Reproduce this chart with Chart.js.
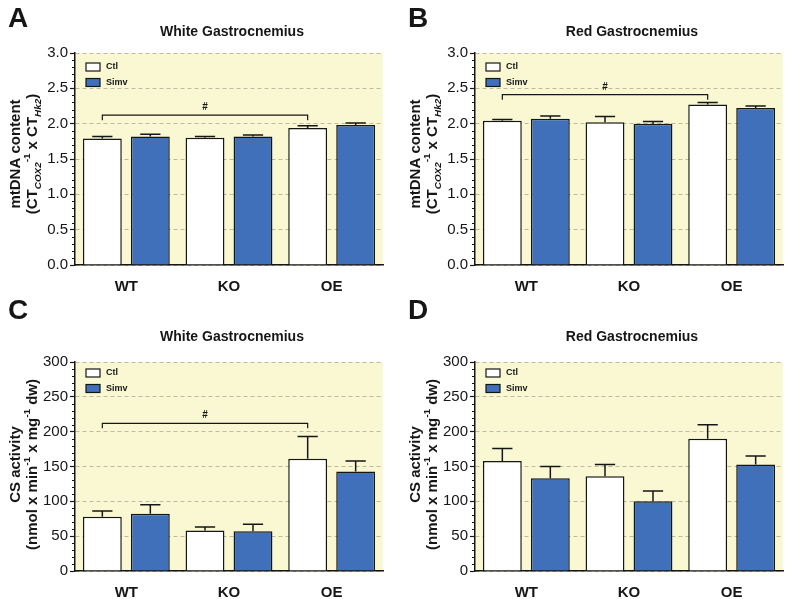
<!DOCTYPE html>
<html>
<head>
<meta charset="utf-8">
<script src="https://cdn.jsdelivr.net/npm/chart.js@4.4.1/dist/chart.umd.min.js"></script>
<style>
  html, body { margin: 0; padding: 0; background: #ffffff; }
  body { width: 800px; height: 599px; position: relative; overflow: hidden; }
  .panel { position: absolute; width: 400px; }
  canvas { display: block; }
</style>
</head>
<body>
<div class="panel" style="left:0;top:0;height:300px"><canvas id="cA" width="400" height="300"></canvas></div>
<div class="panel" style="left:400px;top:0;height:300px"><canvas id="cB" width="400" height="300"></canvas></div>
<div class="panel" style="left:0;top:300px;height:299px"><canvas id="cC" width="400" height="299"></canvas></div>
<div class="panel" style="left:400px;top:300px;height:299px"><canvas id="cD" width="400" height="299"></canvas></div>
<script>
// ---------- data ----------
const categories = ['WT', 'KO', 'OE'];
const seriesNames = ['Ctl', 'Simv'];

// A: mtDNA content, white gastrocnemius
const mtWhiteCtl = [1.79, 1.80, 1.94];
const mtWhiteCtlErr = [0.03, 0.02, 0.03];
const mtWhiteSimv = [1.82, 1.82, 1.98];
const mtWhiteSimvErr = [0.03, 0.02, 0.03];

// B: mtDNA content, red gastrocnemius
const mtRedCtl = [2.04, 2.02, 2.27];
const mtRedCtlErr = [0.02, 0.08, 0.03];
const mtRedSimv = [2.07, 2.00, 2.22];
const mtRedSimvErr = [0.04, 0.03, 0.03];

// C: CS activity, white gastrocnemius
const csWhiteCtl = [78, 58, 161];
const csWhiteCtlErr = [8, 5, 32];
const csWhiteSimv = [82, 57, 143];
const csWhiteSimvErr = [13, 10, 15];

// D: CS activity, red gastrocnemius
const csRedCtl = [158, 136, 190];
const csRedCtlErr = [18, 17, 20];
const csRedSimv = [133, 100, 153];
const csRedSimvErr = [17, 15, 12];

// significance brackets: [fromCategory, toCategory, value, label]
const bracketA = [0, 2, 2.12, '#'];
const bracketB = [0, 2, 2.41, '#'];
const bracketC = [0, 2, 212, '#'];

const mtTicks = { max: 3.0, step: 0.5, minor: 0.1, decimals: 1 };
const csTicks = { max: 300, step: 50, minor: 10, decimals: 0 };

const mtLabel = [
  [{ t: 'mtDNA content' }],
  [{ t: '(CT' }, { t: 'COX2', sub: true, it: true }, { t: '-1', sup: true }, { t: ' x CT' }, { t: 'Hk2', sub: true, it: true }, { t: ')' }]
];
const csLabel = [
  [{ t: 'CS activity' }],
  [{ t: '(nmol x min' }, { t: '-1', sup: true }, { t: ' x mg' }, { t: '-1', sup: true }, { t: ' dw)' }]
];

// ---------- styling ----------
const FONT = "'Liberation Sans', Arial, Helvetica, sans-serif";
const INK = '#161616';
const CTL_FILL = '#ffffff';
const SIMV_FILL = '#3f70b9';
const PLOT_BG = '#f9f8d3';
const GRID = '#bdbb9c';

Chart.defaults.font.family = FONT;
Chart.defaults.color = INK;

function richWidth(ctx, segs, size) {
  let w = 0;
  for (const s of segs) {
    const fs = (s.sub || s.sup) ? size * 0.66 : size;
    ctx.font = (s.it ? 'italic ' : '') + 'bold ' + fs + 'px ' + FONT;
    w += ctx.measureText(s.t).width;
  }
  return w;
}
function drawRichRotated(ctx, segs, bx, cy, size) {
  ctx.save();
  ctx.translate(bx, cy);
  ctx.rotate(-Math.PI / 2);
  ctx.fillStyle = INK;
  ctx.textBaseline = 'alphabetic';
  ctx.textAlign = 'left';
  const w = richWidth(ctx, segs, size);
  let x = -w / 2;
  for (const s of segs) {
    const fs = (s.sub || s.sup) ? size * 0.66 : size;
    ctx.font = (s.it ? 'italic ' : '') + 'bold ' + fs + 'px ' + FONT;
    const dy = s.sub ? size * 0.28 : (s.sup ? -size * 0.45 : 0);
    ctx.fillText(s.t, x, dy);
    x += ctx.measureText(s.t).width;
  }
  ctx.restore();
}

const decor = {
  id: 'decor',
  beforeDraw(chart, args, o) {
    const { ctx, chartArea: a } = chart;
    ctx.save();
    ctx.fillStyle = PLOT_BG;
    ctx.fillRect(a.left, a.top, a.right - a.left, a.bottom - a.top);
    ctx.restore();
  },
  afterDatasetsDraw(chart, args, o) {
    const { ctx, chartArea: a } = chart;
    const ys = chart.scales.y;
    ctx.save();
    ctx.strokeStyle = INK;
    ctx.lineWidth = 1.5;
    // error bars (upper half)
    chart.data.datasets.forEach((ds, di) => {
      const meta = chart.getDatasetMeta(di);
      meta.data.forEach((el, i) => {
        const top = ys.getPixelForValue(ds.data[i] + ds.errors[i]);
        const cap = el.width * 0.26;
        ctx.beginPath();
        ctx.moveTo(el.x, el.y);
        ctx.lineTo(el.x, top);
        ctx.moveTo(el.x - cap, top);
        ctx.lineTo(el.x + cap, top);
        ctx.stroke();
      });
    });
    // bracket
    if (o.bracket) {
      const [f, t, v, lab] = o.bracket;
      const m = chart.getDatasetMeta(0);
      const x1 = m.data[f].x, x2 = m.data[t].x;
      const y = ys.getPixelForValue(v);
      ctx.lineWidth = 1.2;
      ctx.beginPath();
      ctx.moveTo(x1, y + 5);
      ctx.lineTo(x1, y);
      ctx.lineTo(x2, y);
      ctx.lineTo(x2, y + 5);
      ctx.stroke();
      ctx.fillStyle = INK;
      ctx.font = 'bold 10px ' + FONT;
      ctx.textAlign = 'center';
      ctx.textBaseline = 'alphabetic';
      ctx.fillText(lab, (x1 + x2) / 2, y - 5);
    }
    // legend
    chart.data.datasets.forEach((ds, di) => {
      const bx = a.left + 11;
      const by = a.top + o.legendTop + di * 15.5;
      ctx.fillStyle = ds.backgroundColor;
      ctx.fillRect(bx, by - 4, 14, 8);
      ctx.lineWidth = 1.2;
      ctx.strokeStyle = INK;
      ctx.strokeRect(bx, by - 4, 14, 8);
      ctx.fillStyle = INK;
      ctx.font = 'bold 9px ' + FONT;
      ctx.textAlign = 'left';
      ctx.textBaseline = 'middle';
      ctx.fillText(ds.label, bx + 20, by);
    });
    ctx.restore();
  },
  afterDraw(chart, args, o) {
    const { ctx, chartArea: a } = chart;
    const ys = chart.scales.y;
    ctx.save();
    // minor ticks
    ctx.strokeStyle = INK;
    ctx.lineWidth = 1;
    const n = Math.round(o.ticks.max / o.ticks.minor);
    const per = Math.round(o.ticks.step / o.ticks.minor);
    for (let k = 0; k <= n; k++) {
      if (k % per === 0) continue;
      const y = Math.round(ys.getPixelForValue(k * o.ticks.minor)) + 0.5;
      ctx.beginPath();
      ctx.moveTo(a.left - 3, y);
      ctx.lineTo(a.left, y);
      ctx.stroke();
    }
    // title
    ctx.fillStyle = INK;
    ctx.font = 'bold 14px ' + FONT;
    ctx.textAlign = 'center';
    ctx.textBaseline = 'middle';
    ctx.fillText(o.title, (a.left + a.right) / 2 + 3, o.titleY);
    // panel letter
    ctx.font = 'bold 28px ' + FONT;
    ctx.textAlign = 'left';
    ctx.textBaseline = 'alphabetic';
    ctx.fillText(o.letter, 8, o.letterY);
    ctx.restore();
    // y axis title
    const cy = (a.top + a.bottom) / 2 + o.labelShift;
    drawRichRotated(ctx, o.yLabel[0], 20, cy, 15);
    drawRichRotated(ctx, o.yLabel[1], 37, cy, 15);
  }
};

function makePanel(id, o) {
  return new Chart(document.getElementById(id), {
    type: 'bar',
    data: {
      labels: categories,
      datasets: [
        { label: seriesNames[0], data: o.ctl, errors: o.ctlErr, backgroundColor: CTL_FILL, borderColor: INK, borderWidth: 1.5 },
        { label: seriesNames[1], data: o.simv, errors: o.simvErr, backgroundColor: SIMV_FILL, borderColor: INK, borderWidth: 1.5 }
      ]
    },
    options: {
      responsive: false,
      animation: false,
      devicePixelRatio: 1,
      categoryPercentage: 0.935,
      barPercentage: 0.81,
      layout: { padding: { top: o.padTop, right: 17, left: 0, bottom: 0 } },
      plugins: {
        legend: { display: false },
        tooltip: { enabled: false },
        title: { display: false },
        decor: {
          title: o.title, letter: o.letter, letterY: o.letterY, titleY: o.titleY,
          bracket: o.bracket, ticks: o.ticks, yLabel: o.yLabel, legendTop: o.legendTop,
          labelShift: o.labelShift
        }
      },
      scales: {
        x: {
          grid: { display: false },
          border: { display: true, color: INK, width: 1.5 },
          ticks: { font: { size: 15, weight: 'bold' }, color: INK, padding: 5 },
          afterFit: s => { s.height = o.xH; }
        },
        y: {
          min: 0, max: o.ticks.max,
          grid: { color: GRID, lineWidth: 1, drawTicks: true, tickLength: 5, tickColor: INK, tickWidth: 1.2 },
          border: { display: true, color: INK, width: 1.5, dash: [4, 3] },
          ticks: {
            stepSize: o.ticks.step, padding: 2, color: INK,
            font: { size: 15 },
            callback: v => Number(v).toFixed(o.ticks.decimals)
          },
          afterFit: s => { s.width = 75; }
        }
      }
    },
    plugins: [decor]
  });
}

makePanel('cA', { ctl: mtWhiteCtl, ctlErr: mtWhiteCtlErr, simv: mtWhiteSimv, simvErr: mtWhiteSimvErr,
  title: 'White Gastrocnemius', letter: 'A', letterY: 27, titleY: 32, bracket: bracketA, ticks: mtTicks,
  yLabel: mtLabel, legendTop: 14, padTop: 53, xH: 35, labelShift: -5 });
makePanel('cB', { ctl: mtRedCtl, ctlErr: mtRedCtlErr, simv: mtRedSimv, simvErr: mtRedSimvErr,
  title: 'Red Gastrocnemius', letter: 'B', letterY: 27, titleY: 32, bracket: bracketB, ticks: mtTicks,
  yLabel: mtLabel, legendTop: 14, padTop: 53, xH: 35, labelShift: -5 });
makePanel('cC', { ctl: csWhiteCtl, ctlErr: csWhiteCtlErr, simv: csWhiteSimv, simvErr: csWhiteSimvErr,
  title: 'White Gastrocnemius', letter: 'C', letterY: 19, titleY: 37, bracket: bracketC, ticks: csTicks,
  yLabel: csLabel, legendTop: 11, padTop: 62, xH: 28, labelShift: -2 });
makePanel('cD', { ctl: csRedCtl, ctlErr: csRedCtlErr, simv: csRedSimv, simvErr: csRedSimvErr,
  title: 'Red Gastrocnemius', letter: 'D', letterY: 19, titleY: 37, bracket: null, ticks: csTicks,
  yLabel: csLabel, legendTop: 11, padTop: 62, xH: 28, labelShift: -2 });
</script>
</body>
</html>
